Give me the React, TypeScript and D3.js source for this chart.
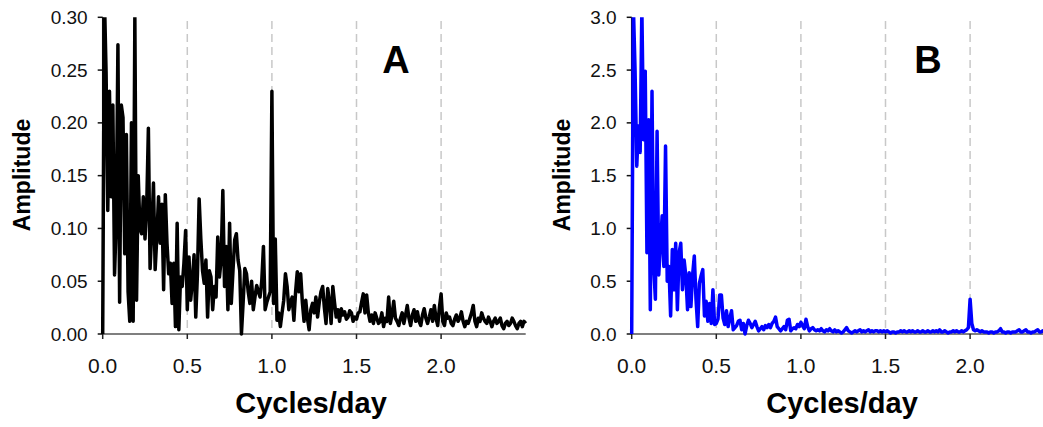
import React from "react";
import * as d3 from "d3";

// frequency step of the spectra (cycles/day)
const FREQ_STEP = 0.01;

// Panel A amplitudes, f = 0.00 .. 2.50
const ampA = [
  0.000, 0.320, 0.248, 0.117, 0.230, 0.130, 0.217, 0.056, 0.108, 0.274,
  0.030, 0.217, 0.205, 0.076, 0.189, 0.040, 0.012, 0.200, 0.012, 0.300,
  0.032, 0.150, 0.100, 0.095, 0.130, 0.090, 0.120, 0.195, 0.062, 0.098,
  0.143, 0.061, 0.092, 0.130, 0.086, 0.123, 0.042, 0.132, 0.086, 0.057,
  0.067, 0.029, 0.067, 0.007, 0.105, 0.004, 0.054, 0.045, 0.067, 0.098,
  0.023, 0.073, 0.032, 0.050, 0.075, 0.016, 0.057, 0.128, 0.090, 0.060,
  0.048, 0.070, 0.016, 0.060, 0.054, 0.023, 0.045, 0.035, 0.092, 0.054,
  0.070, 0.136, 0.045, 0.083, 0.023, 0.105, 0.029, 0.060, 0.089, 0.095,
  0.070, 0.060, 0.000, 0.030, 0.062, 0.057, 0.040, 0.029, 0.050, 0.023,
  0.035, 0.046, 0.040, 0.035, 0.050, 0.083, 0.023, 0.030, 0.035, 0.040,
  0.230, 0.029, 0.090, 0.013, 0.020, 0.007, 0.020, 0.032, 0.057, 0.045,
  0.023, 0.030, 0.035, 0.013, 0.040, 0.059, 0.040, 0.057, 0.030, 0.012,
  0.032, 0.015, 0.004, 0.023, 0.029, 0.020, 0.035, 0.016, 0.030, 0.040,
  0.045, 0.025, 0.010, 0.043, 0.030, 0.010, 0.045, 0.030, 0.016, 0.023,
  0.012, 0.024, 0.018, 0.021, 0.014, 0.016, 0.022, 0.020, 0.012, 0.016,
  0.014, 0.020, 0.021, 0.030, 0.038, 0.020, 0.037, 0.020, 0.012, 0.018,
  0.010, 0.020, 0.015, 0.010, 0.012, 0.020, 0.007, 0.015, 0.012, 0.035,
  0.010, 0.018, 0.031, 0.015, 0.012, 0.008, 0.015, 0.020, 0.010, 0.018,
  0.027, 0.015, 0.008, 0.018, 0.023, 0.012, 0.021, 0.012, 0.008, 0.018,
  0.024, 0.015, 0.010, 0.016, 0.023, 0.012, 0.027, 0.015, 0.008, 0.025,
  0.038, 0.012, 0.008, 0.020, 0.015, 0.016, 0.010, 0.008, 0.014, 0.018,
  0.012, 0.015, 0.021, 0.012, 0.007, 0.012, 0.010, 0.015, 0.020, 0.027,
  0.012, 0.007, 0.015, 0.012, 0.020, 0.015, 0.012, 0.010, 0.016, 0.012,
  0.007, 0.012, 0.015, 0.010, 0.012, 0.015, 0.008, 0.005, 0.010, 0.012,
  0.008, 0.010, 0.015, 0.012, 0.008, 0.005, 0.010, 0.012, 0.007, 0.012,
  0.010,
];

// Panel B amplitudes, f = 0.00 .. 2.50
const ampB = [
  0.00, 3.10, 2.49, 1.59, 1.97, 1.72, 3.10, 1.84, 2.49, 0.77,
  2.03, 0.23, 2.30, 0.64, 0.33, 1.92, 0.56, 0.86, 1.12, 0.64,
  1.78, 0.50, 0.64, 0.17, 0.80, 0.42, 0.86, 0.23, 0.77, 0.86,
  0.42, 0.70, 0.55, 0.23, 0.58, 0.26, 0.56, 0.74, 0.33, 0.07,
  0.48, 0.55, 0.61, 0.17, 0.31, 0.12, 0.29, 0.10, 0.42, 0.09,
  0.10, 0.14, 0.37, 0.37, 0.15, 0.09, 0.22, 0.07, 0.15, 0.22,
  0.04, 0.06, 0.08, 0.12, 0.13, 0.04, 0.10, 0.00, 0.08, 0.13,
  0.10, 0.06, 0.09, 0.12, 0.07, 0.03, 0.05, 0.07, 0.04, 0.08,
  0.06, 0.09, 0.06, 0.10, 0.12, 0.16, 0.07, 0.05, 0.03, 0.05,
  0.07, 0.04, 0.13, 0.14, 0.03, 0.05, 0.06, 0.05, 0.09, 0.07,
  0.11, 0.08, 0.05, 0.14, 0.07, 0.03, 0.05, 0.06, 0.04, 0.03,
  0.04, 0.03, 0.05, 0.03, 0.02, 0.04, 0.03, 0.05, 0.03, 0.02,
  0.04, 0.02, 0.03, 0.02, 0.01, 0.02, 0.04, 0.06, 0.03, 0.02,
  0.01, 0.02, 0.03, 0.02, 0.03, 0.04, 0.02, 0.03, 0.02, 0.03,
  0.04, 0.02, 0.03, 0.02, 0.03, 0.03, 0.02, 0.03, 0.02, 0.03,
  0.02, 0.03, 0.02, 0.01, 0.02, 0.02, 0.01, 0.02, 0.02, 0.03,
  0.02, 0.03, 0.02, 0.02, 0.03, 0.02, 0.03, 0.02, 0.02, 0.03,
  0.02, 0.02, 0.03, 0.02, 0.02, 0.03, 0.02, 0.02, 0.03, 0.02,
  0.03, 0.02, 0.04, 0.02, 0.02, 0.03, 0.02, 0.01, 0.02, 0.02,
  0.03, 0.02, 0.03, 0.02, 0.02, 0.03, 0.02, 0.03, 0.04, 0.06,
  0.33, 0.10, 0.04, 0.03, 0.04, 0.03, 0.02, 0.03, 0.02, 0.02,
  0.02, 0.01, 0.02, 0.02, 0.01, 0.02, 0.02, 0.03, 0.05, 0.02,
  0.02, 0.01, 0.02, 0.02, 0.01, 0.02, 0.02, 0.02, 0.03, 0.04,
  0.02, 0.02, 0.03, 0.04, 0.02, 0.02, 0.01, 0.02, 0.02, 0.03,
  0.04, 0.02, 0.02, 0.03, 0.02, 0.02, 0.03, 0.02, 0.02, 0.02,
  0.02,
];

const xTicks = [0, 0.5, 1.0, 1.5, 2.0];
const gridLines = [0.5, 1.0, 1.5, 2.0];
const yTicksA = [0, 0.05, 0.1, 0.15, 0.2, 0.25, 0.3];
const yTicksB = [0, 0.5, 1.0, 1.5, 2.0, 2.5, 3.0];

const W = 1043;
const H = 427;
const TOP = 17.3;
const BOTTOM = 334;
const UNIT = 169.2; // px per cycle/day

type PanelProps = {
  id: string;
  left: number;
  data: number[];
  yMax: number;
  yTicks: number[];
  yFmt: (v: number) => string;
  color: string;
  label: string;
  labelX: number;
  titleX: number;
  ampX: number;
};

function Panel(p: PanelProps) {
  const x = d3.scaleLinear().domain([0, 2.5]).range([p.left, p.left + 2.5 * UNIT]);
  const y = d3.scaleLinear().domain([0, p.yMax]).range([BOTTOM, TOP]);
  const line = d3
    .line<number>()
    .x((_, i) => x(i * FREQ_STEP))
    .y((d) => y(d));
  const font = "Arial, 'Liberation Sans', Helvetica, sans-serif";
  const xEnd = Math.min(x(2.5), W);
  return (
    <g>
      <defs>
        <clipPath id={"clip" + p.id}>
          <rect x={p.left - 3} y={TOP} width={xEnd - p.left + 6} height={BOTTOM - TOP + 3} />
        </clipPath>
      </defs>
      {gridLines.map((g) => (
        <line
          key={g}
          x1={x(g)}
          x2={x(g)}
          y1={21}
          y2={BOTTOM}
          stroke="#c8c8c8"
          strokeWidth={1.5}
          strokeDasharray="8,5"
        />
      ))}
      {/* x axis */}
      <line x1={p.left} x2={xEnd} y1={BOTTOM} y2={BOTTOM} stroke="#555" strokeWidth={1.5} />
      {xTicks.map((t) => (
        <g key={t}>
          <line x1={x(t)} x2={x(t)} y1={BOTTOM} y2={BOTTOM + 5} stroke="#222" strokeWidth={1.5} />
          <text
            x={x(t)}
            y={373}
            textAnchor="middle"
            fontFamily={font}
            fontSize={21}
            fill="#111"
          >
            {t.toFixed(1)}
          </text>
        </g>
      ))}
      {/* y axis */}
      <line x1={p.left} x2={p.left} y1={TOP} y2={BOTTOM} stroke="#111" strokeWidth={1.5} />
      {p.yTicks.map((t) => (
        <g key={t}>
          <line x1={p.left - 5} x2={p.left} y1={y(t)} y2={y(t)} stroke="#111" strokeWidth={1.5} />
          <text
            x={p.left - 15}
            y={y(t) + 6.5}
            textAnchor="end"
            fontFamily={font}
            fontSize={19}
            fill="#111"
          >
            {p.yFmt(t)}
          </text>
        </g>
      ))}
      <path
        d={line(p.data) || ""}
        fill="none"
        stroke={p.color}
        strokeWidth={3.5}
        strokeLinejoin="round"
        clipPath={`url(#clip${p.id})`}
      />
      <text
        x={p.titleX}
        y={73}
        textAnchor="middle"
        fontFamily={font}
        fontWeight="bold"
        fontSize={38}
        fill="#000"
      >
        {p.label}
      </text>
      <text
        x={p.labelX}
        y={413}
        textAnchor="middle"
        fontFamily={font}
        fontWeight="bold"
        fontSize={29}
        fill="#000"
      >
        Cycles/day
      </text>
      <text
        transform={`translate(${p.ampX},175) rotate(-90)`}
        textAnchor="middle"
        fontFamily={font}
        fontWeight="bold"
        fontSize={23}
        fill="#000"
      >
        Amplitude
      </text>
    </g>
  );
}

export default function App() {
  return (
    <div style={{ position: "absolute", left: 0, top: 0 }}>
      <svg width={W} height={H} style={{ display: "block", background: "#fff" }}>
        <rect x={0} y={0} width={W} height={H} fill="#fff" />
        <Panel
          id="A"
          left={102.7}
          data={ampA}
          yMax={0.3}
          yTicks={yTicksA}
          yFmt={(v) => v.toFixed(2)}
          color="#000"
          label="A"
          labelX={311}
          titleX={396}
          ampX={30}
        />
        <Panel
          id="B"
          left={631.7}
          data={ampB}
          yMax={3.0}
          yTicks={yTicksB}
          yFmt={(v) => v.toFixed(1)}
          color="#0000ff"
          label="B"
          labelX={842}
          titleX={928}
          ampX={570}
        />
      </svg>
    </div>
  );
}
